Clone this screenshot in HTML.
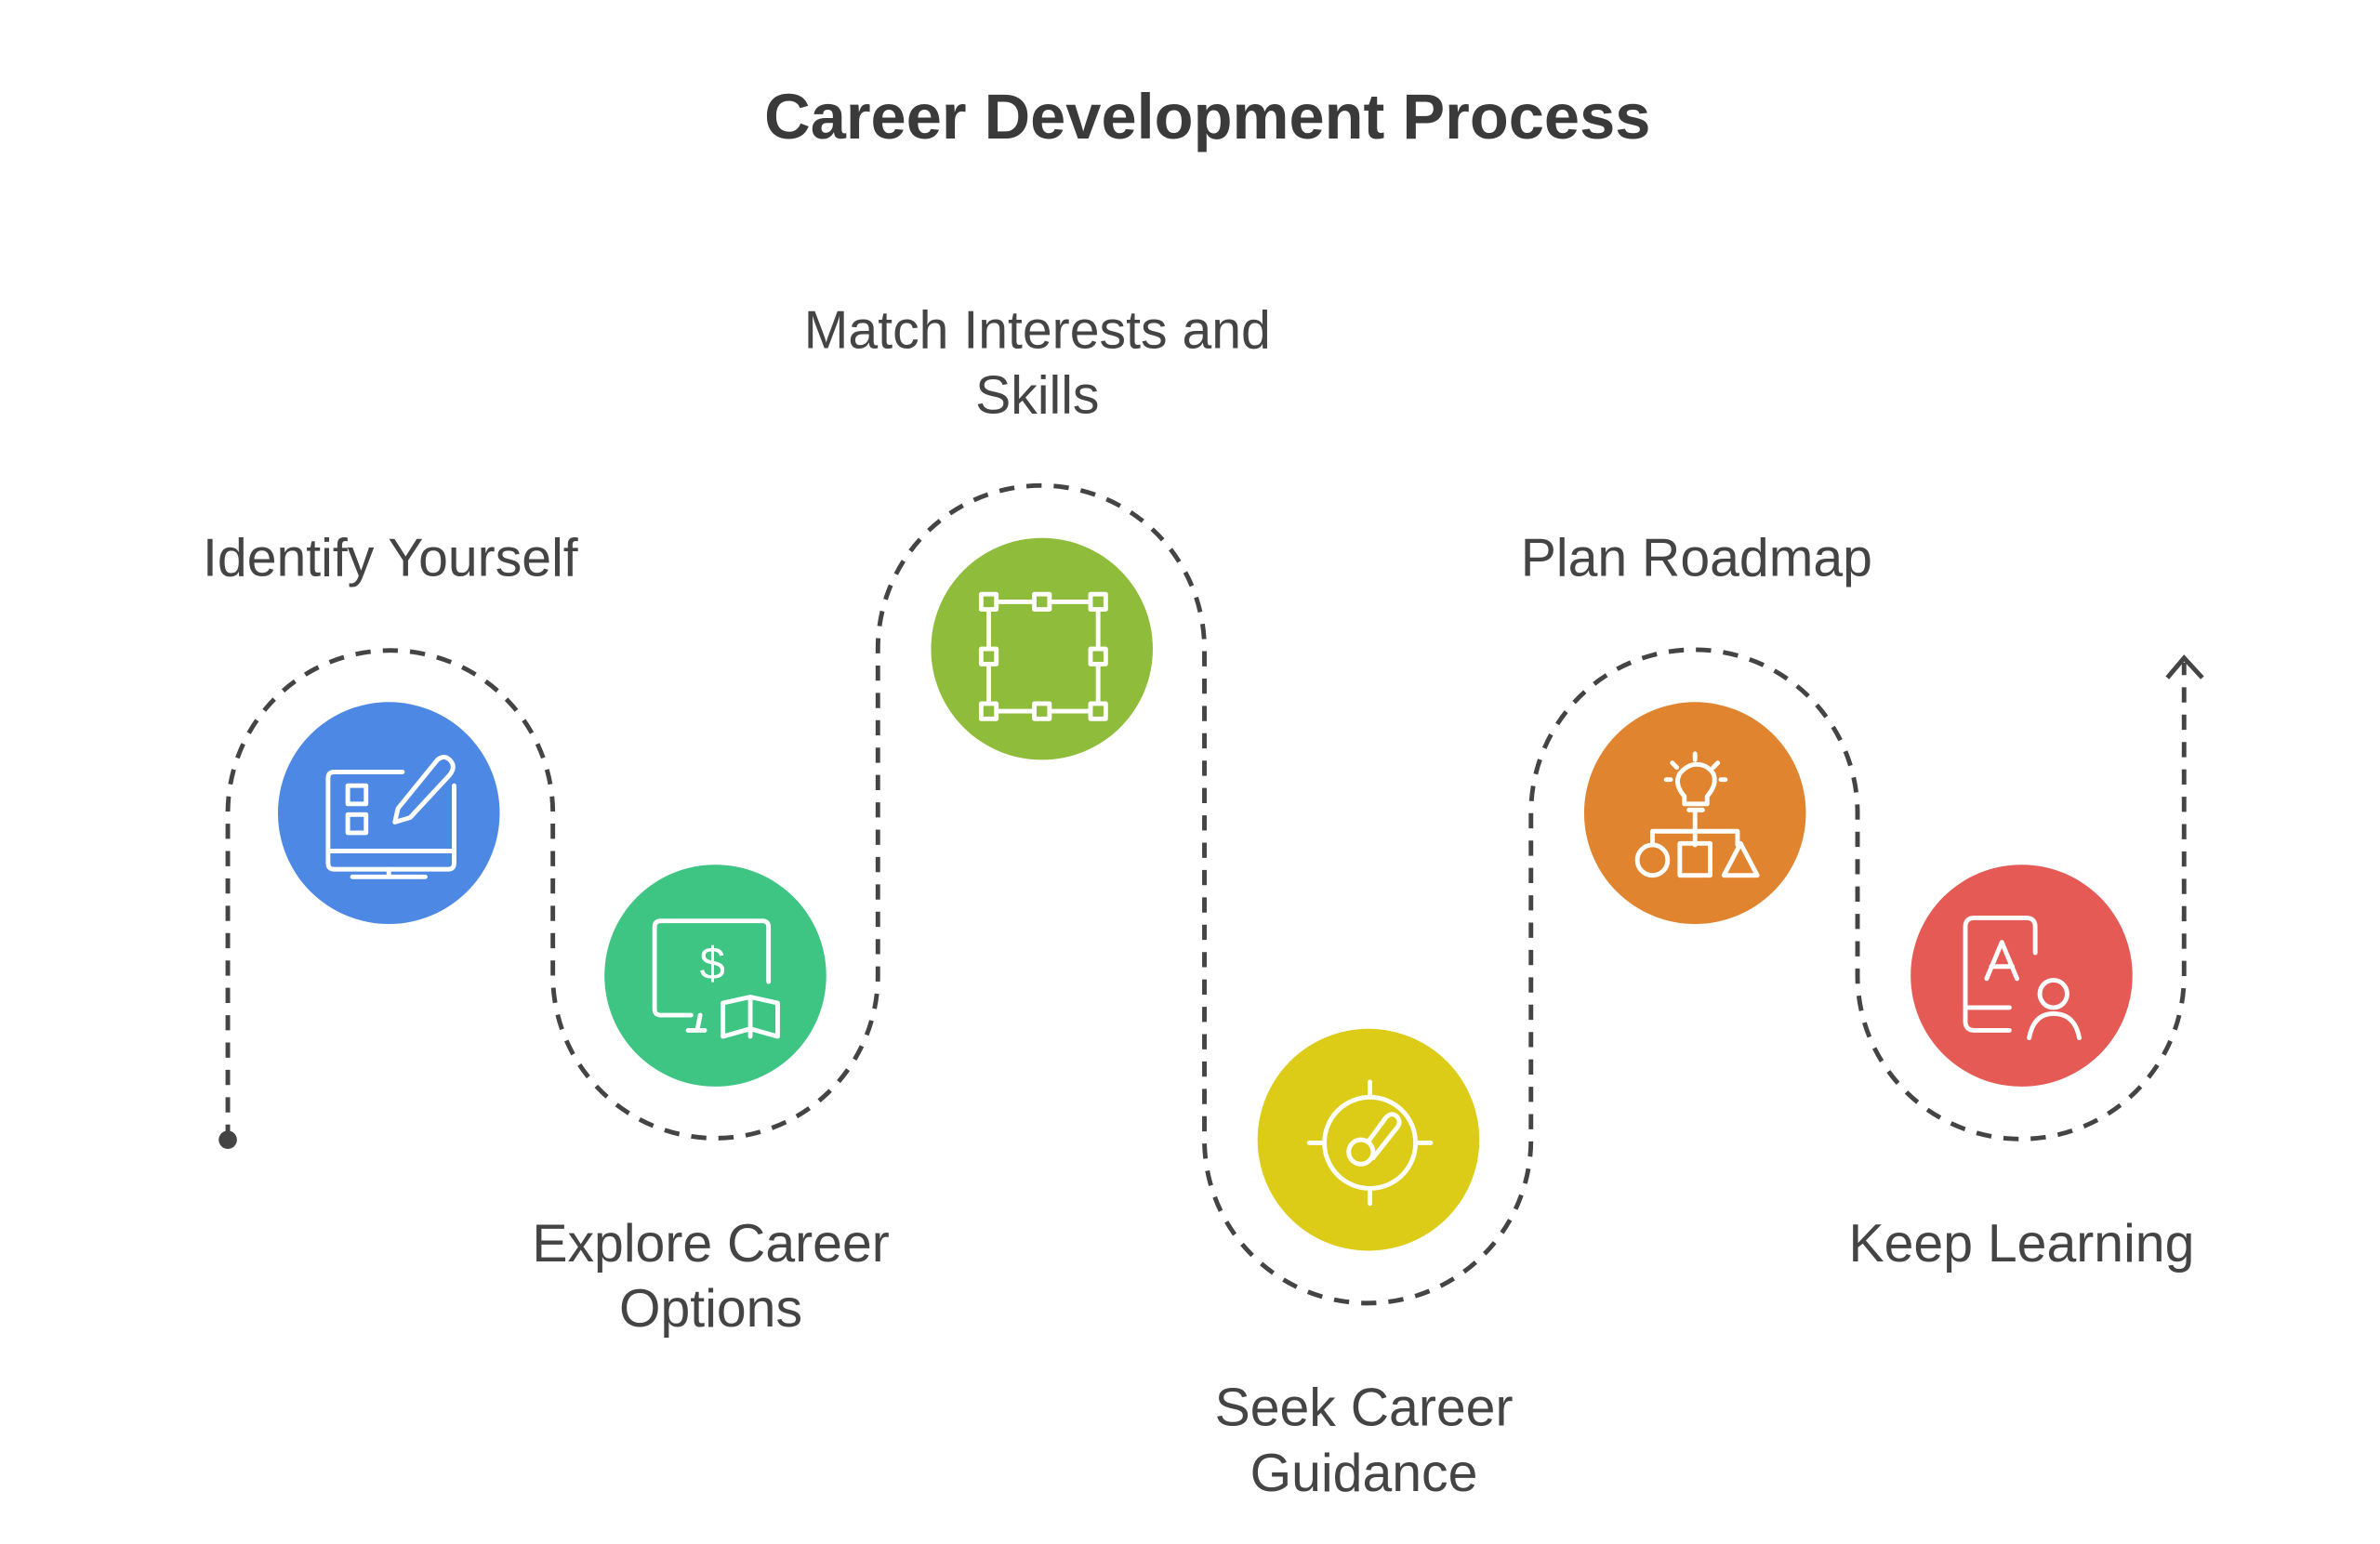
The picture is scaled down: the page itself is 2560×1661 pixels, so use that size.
<!DOCTYPE html>
<html><head><meta charset="utf-8"><style>
html,body{margin:0;padding:0;background:#fff;}
svg{display:block;}
</style></head><body>
<svg width="2560" height="1661" viewBox="0 0 1567 1016" preserveAspectRatio="none" xmlns="http://www.w3.org/2000/svg">
<rect width="1567" height="1016" fill="#fff"/>
<text x="795" y="91" text-anchor="middle" font-family="Liberation Sans, sans-serif" font-weight="bold" font-size="42" fill="#3a3a3a">Career Development Process</text>

<path d="M150,750 V535 A107,107 0 0 1 364,535 V642 A107,107 0 0 0 578,642 V427 A107,107 0 0 1 793,427 V750 A107,107 0 0 0 1008,750 V535 A107,107 0 0 1 1223,535 V642 A107,107 0 0 0 1438,642 V436" fill="none" stroke="#444" stroke-width="3" stroke-dasharray="10 8"/>
<circle cx="150" cy="750" r="6" fill="#444"/>
<path d="M1427,446 L1438,433 L1450,446" fill="none" stroke="#444" stroke-width="3"/>

<circle cx="256" cy="535" r="73" fill="#4d88e4"/>
<circle cx="471" cy="642" r="73" fill="#3ec483"/>
<circle cx="686" cy="427" r="73" fill="#8fbc3a"/>
<circle cx="901" cy="750" r="73" fill="#dccb17"/>
<circle cx="1116" cy="535" r="73" fill="#e0842f"/>
<circle cx="1331" cy="642" r="73" fill="#e55a55"/>

<g fill="none" stroke="#fff" stroke-width="3" stroke-linejoin="round" stroke-linecap="round">
<path d="M265,508 H220 Q216,508 216,512 V568 Q216,572 220,572 H295 Q299,572 299,568 V517"/>
<path d="M216,560 H299 M256,572 V577 M232,577 H280"/>
<rect x="229" y="517" width="12" height="12"/><rect x="229" y="536" width="12" height="12"/>
<path d="M262,532 L288,500 Q293,496 297,501 Q300,505 296,510 L270,538 L260,541 Z"/>
<path d="M455,668 H435 Q431,668 431,664 V610 Q431,606 435,606 H502 Q506,606 506,610 V646"/>
<path d="M461,668 L459,678 M453,678 H464"/>
<text x="469" y="644" text-anchor="middle" font-family="Liberation Sans, sans-serif" font-size="30" fill="#fff" stroke="none">$</text>
<path d="M476,660 V682 L494,677 L512,682 V660 L494,656 L476,660 Z M494,656 V682"/>
<rect x="651" y="396" width="72" height="72"/>
<rect x="646" y="391" width="10" height="10" fill="#8fbc3a"/><rect x="718" y="391" width="10" height="10" fill="#8fbc3a"/>
<rect x="646" y="463" width="10" height="10" fill="#8fbc3a"/><rect x="718" y="463" width="10" height="10" fill="#8fbc3a"/>
<rect x="681" y="391" width="10" height="10" fill="#8fbc3a"/><rect x="681" y="463" width="10" height="10" fill="#8fbc3a"/>
<rect x="646" y="427" width="10" height="10" fill="#8fbc3a"/><rect x="718" y="427" width="10" height="10" fill="#8fbc3a"/>
<circle cx="902" cy="752" r="30"/>
<path d="M902,712 V722 M902,782 V792 M862,752 H872 M932,752 H942"/>
<circle cx="896" cy="758" r="8"/>
<path d="M901,751 L912,736 Q916,731 920,735 Q923,739 919,743 L904,762"/>
<path d="M1109,524 Q1102,516 1106,509 Q1111,503 1117,503 Q1124,503 1128,509 Q1131,516 1124,524 V529 H1109 Z"/>
<path d="M1116,496 V500 M1101,502 L1104,505 M1131,502 L1128,505 M1097,513 H1100 M1133,513 H1136"/>
<path d="M1116,533 V556 M1088,556 V547 H1144 V556 M1112,533 H1121"/>
<circle cx="1088" cy="566" r="10"/>
<rect x="1106" y="555" width="20" height="21"/>
<path d="M1146,555 L1157,576 H1135 Z"/>
<path d="M1323,678 H1300 Q1294,678 1294,672 V610 Q1294,604 1300,604 H1334 Q1340,604 1340,610 V627"/>
<path d="M1294,663 H1323"/>
<path d="M1308,644 L1318,620 L1328,644 M1311,636 H1325"/>
<circle cx="1352" cy="654" r="9"/>
<path d="M1336,683 Q1339,667 1352,667 Q1366,667 1369,683"/>
</g>

<g font-family="Liberation Sans, sans-serif" font-size="35" fill="#444" text-anchor="middle">
<text x="257" y="379">Identify Yourself</text>
<text x="683" y="229">Match Interests and</text>
<text x="683" y="272">Skills</text>
<text x="1117" y="379">Plan Roadmap</text>
<text x="468" y="830">Explore Career</text>
<text x="468" y="873">Options</text>
<text x="898" y="938">Seek Career</text>
<text x="898" y="981">Guidance</text>
<text x="1331" y="830">Keep Learning</text>
</g>
</svg>
</body></html>
